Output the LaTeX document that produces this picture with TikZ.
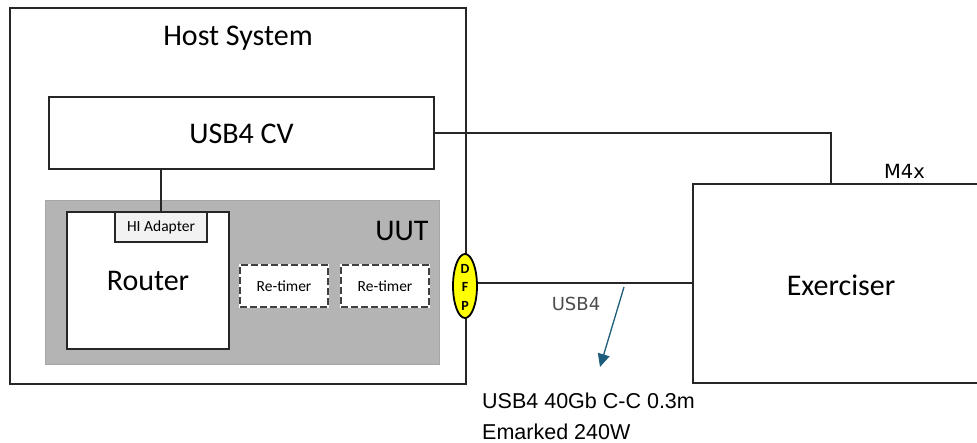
\documentclass[tikz,border=0pt]{standalone}
\usepackage{fontspec}
\setmainfont{Carlito}
\newfontfamily\dejavu{DejaVu Sans}
\newfontfamily\libsans{Liberation Sans}
\usetikzlibrary{arrows.meta,shapes.geometric}
\definecolor{uutgray}{HTML}{B4B4B4}
\definecolor{higray}{HTML}{F2F2F2}
\definecolor{arrowteal}{HTML}{1D5C7A}
\definecolor{dfpyellow}{HTML}{FFFF00}
\begin{document}
\begin{tikzpicture}[x=1pt,y=-1pt,
  box/.style={draw=black!85,line width=2pt,rectangle,inner sep=0pt},
  big/.style={font=\fontsize{30}{36}\selectfont},
  small/.style={font=\fontsize{15.5}{18}\selectfont},
  retimer/.style={rectangle,inner sep=0pt,minimum width=88pt,minimum height=42pt,fill=white,
    draw=black!75,line width=2pt,dash pattern=on 7pt off 3pt,
    preaction={draw=white,solid,line width=2pt},small},
  conn/.style={draw=black!85,line width=2pt}]
\useasboundingbox (0,0) rectangle (977,443);
\clip (0,0) rectangle (977,443);
\fill[white] (0,0) rectangle (977,443);

% Host system
\node[box,fill=white,minimum width=456pt,minimum height=376pt] (host) at (238,196) {};
\node[big] (hosttitle) at (238,38) {Host System};

% USB4 CV
\node[box,fill=white,minimum width=385pt,minimum height=72pt,big] (cv) at (241.5,133.5) {USB4 CV};

% UUT
\node[rectangle,fill=uutgray,draw=black!35,line width=1pt,minimum width=394pt,minimum height=164pt] (uut) at (242,283) {};
\node[big] (uutlabel) at (402,231) {UUT};

% Router
\node[box,fill=white,minimum width=162pt,minimum height=137pt,big] (router) at (148,280.5) {Router};
\node[box,fill=higray,minimum width=92pt,minimum height=30pt,small] (hi) at (161,227) {HI Adapter};

% Re-timers
\node[retimer] (rt1) at (284,286) {Re-timer};
\node[retimer] (rt2) at (385,286) {Re-timer};

% DFP
\node[ellipse,draw=black,line width=1.8pt,fill=dfpyellow,minimum width=24pt,minimum height=64pt,inner sep=0pt] (dfp) at (465,286) {};
\node[align=center,inner sep=0pt,font=\fontsize{14}{18.5}\selectfont\bfseries] (dfptext) at (465,287) {D\\F\\P};

% Exerciser
\node[box,fill=white,minimum width=297pt,minimum height=199pt,big] (ex) at (841.5,284) {};
\node[big] (extext) at (841,285.5) {Exerciser};

% connectors
\coordinate (corner) at (831,133.5);
\draw[conn] (cv.east) -- (corner) -- (corner |- ex.north);
\draw[conn] (cv.south -| hi.north) -- (hi.north);
\draw[conn] ([yshift=2.5pt]dfp.east) -- ([yshift=2.5pt]dfp.east -| ex.west);

% labels
\node[font=\dejavu\fontsize{18}{22}\selectfont,text=black!70] (usblabel) at (576,304) {USB4};
\node[font=\dejavu\fontsize{19.5}{24}\selectfont] (m4x) at (904.5,171) {M4x};

% cable note
\coordinate (a1) at (624,287);
\coordinate (a2) at (600,367);
\draw[arrowteal,line width=1.3pt,-{Triangle[length=13pt,width=12pt]}] (a1) -- (a2);
\node[anchor=base west,inner sep=0pt,font=\libsans\fontsize{21.5}{26}\selectfont] (note1) at (482,408) {USB4 40Gb C-C 0.3m};
\node[anchor=base west,inner sep=0pt,font=\libsans\fontsize{21.5}{26}\selectfont] (note2) at (482,439) {Emarked 240W};
\end{tikzpicture}
\end{document}
